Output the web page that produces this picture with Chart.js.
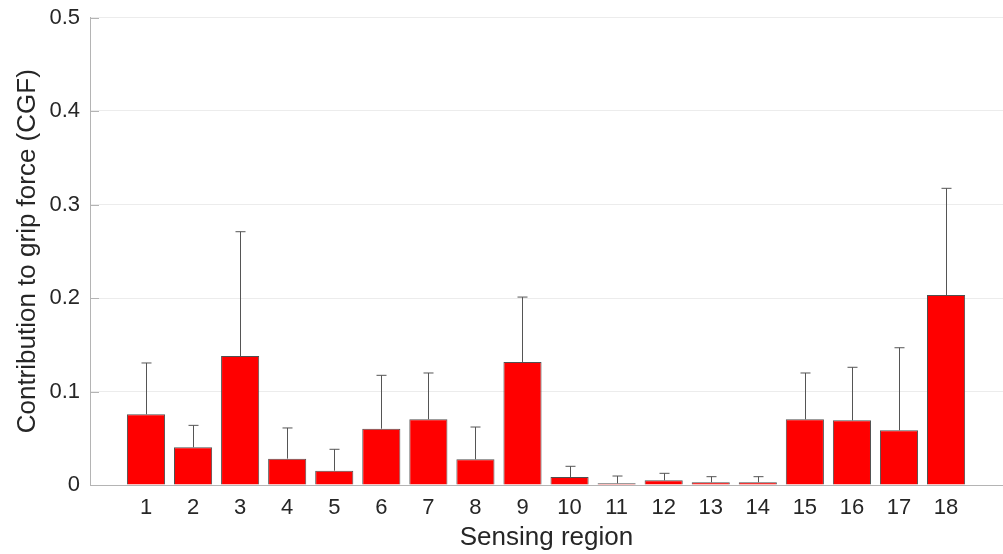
<!DOCTYPE html>
<html>
<head>
<meta charset="utf-8">
<script src="https://cdn.jsdelivr.net/npm/chart.js@4"></script>
<style>
    body { margin: 0; background: #fff; }
    #chart { display: block; }
</style>
</head>
<body>
<canvas id="chart" width="1003" height="554"></canvas>
<script>
const regions = [1, 2, 3, 4, 5, 6, 7, 8, 9, 10, 11, 12, 13, 14, 15, 16, 17, 18];
const meanCGF = [0.0756, 0.0403, 0.138, 0.0282, 0.0153, 0.0602, 0.0702, 0.0275, 0.1316,
    0.0086, 0.0018, 0.005, 0.0029, 0.0029, 0.0702, 0.0692, 0.0585, 0.2032];
const upperCGF = [0.1305, 0.0638, 0.2709, 0.061, 0.0382, 0.1173, 0.1198, 0.062, 0.201,
    0.02, 0.0096, 0.0125, 0.0089, 0.0089, 0.1198, 0.1259, 0.1468, 0.3173];
const yTicks = [0, 0.1, 0.2, 0.3, 0.4, 0.5];

const axisGray = "#b4b4b4";
const textColor = "#262626";
const fontFamily = "'Liberation Sans', Arial, Helvetica, sans-serif";

// upper error bars with a small cap
const errorBars = {
    id: "errorBars",
    afterDatasetsDraw(chart) {
        const ctx = chart.ctx;
        const y = chart.scales.y;
        const meta = chart.getDatasetMeta(0);
        ctx.save();
        ctx.strokeStyle = "#555555";
        ctx.lineWidth = 1;
        meta.data.forEach((bar, i) => {
            const x = Math.round(bar.x) + 0.5;
            const top = y.getPixelForValue(upperCGF[i]);
            ctx.beginPath();
            ctx.moveTo(x, bar.y);
            ctx.lineTo(x, top);
            ctx.moveTo(x - 5, top);
            ctx.lineTo(x + 5, top);
            ctx.stroke();
        });
        ctx.restore();
    }
};

// inward y ticks like the original
const innerTicks = {
    id: "innerTicks",
    afterDraw(chart) {
        const ctx = chart.ctx;
        const y = chart.scales.y;
        const left = chart.chartArea.left;
        ctx.save();
        ctx.strokeStyle = axisGray;
        ctx.lineWidth = 1;
        yTicks.forEach(v => {
            const py = Math.round(y.getPixelForValue(v)) + 0.5;
            ctx.beginPath();
            ctx.moveTo(left, py);
            ctx.lineTo(left + 9, py);
            ctx.stroke();
        });
        ctx.restore();
    }
};

new Chart(document.getElementById("chart").getContext("2d"), {
    type: "bar",
    data: {
        datasets: [{
            data: regions.map((r, i) => ({ x: r, y: meanCGF[i] })),
            backgroundColor: "#ff0000",
            borderColor: "#505050",
            borderWidth: 1,
            barPercentage: 0.81,
            categoryPercentage: 1
        }]
    },
    options: {
        responsive: false,
        animation: false,
        devicePixelRatio: 1,
        layout: { padding: { top: 17.5, right: 0, left: 0, bottom: 0 } },
        plugins: {
            legend: { display: false },
            tooltip: { enabled: false }
        },
        scales: {
            x: {
                type: "linear",
                offset: false,
                min: -0.19,
                max: 19.21,
                afterBuildTicks: axis => {
                    axis.ticks = regions.map(v => ({ value: v }));
                },
                afterFit: axis => {
                    axis.height = 69;
                    axis.paddingLeft = 0;
                    axis.paddingRight = 0;
                },
                grid: { display: false, drawTicks: false },
                border: { display: true, color: axisGray, width: 1 },
                ticks: {
                    padding: 10,
                    color: textColor,
                    font: { family: fontFamily, size: 22 },
                    maxRotation: 0,
                    autoSkip: false,
                    callback: v => String(v)
                },
                title: {
                    display: true,
                    text: "Sensing region",
                    color: textColor,
                    font: { family: fontFamily, size: 26 },
                    padding: { top: 0, bottom: 1 }
                }
            },
            y: {
                min: 0,
                max: 0.5,
                afterBuildTicks: axis => {
                    axis.ticks = yTicks.map(v => ({ value: v }));
                },
                afterFit: axis => {
                    axis.width = 90;
                    axis.paddingTop = 0;
                    axis.paddingBottom = 0;
                },
                grid: {
                    drawTicks: false,
                    color: ctx => ctx.tick && ctx.tick.value === 0 ? "rgba(0,0,0,0)" : "#ececec"
                },
                border: { display: true, color: axisGray, width: 1 },
                ticks: {
                    padding: 10,
                    color: textColor,
                    font: { family: fontFamily, size: 22 },
                    callback: v => String(Math.round(v * 10) / 10)
                },
                title: {
                    display: true,
                    text: "Contribution to grip force (CGF)",
                    color: textColor,
                    font: { family: fontFamily, size: 26 },
                    padding: 12
                }
            }
        }
    },
    plugins: [errorBars, innerTicks]
});
</script>
</body>
</html>
